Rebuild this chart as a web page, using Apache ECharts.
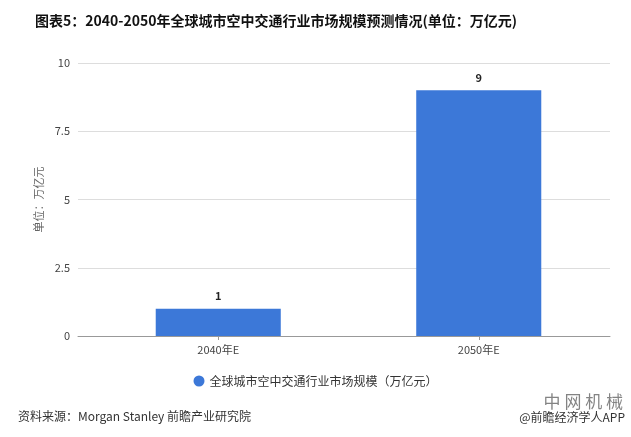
<!DOCTYPE html>
<html><head><meta charset="utf-8">
<script src="https://cdn.jsdelivr.net/npm/echarts@6/dist/echarts.min.js"></script>
<style>html,body{margin:0;padding:0;background:#fff}#c{width:631px;height:437px}</style>
</head><body><div id="c"></div>
<script>
const categories = ['2040年E', '2050年E'];
const marketSize = [1, 9];
const yTicks = [0, 2.5, 5, 7.5, 10];
const seriesName = '全球城市空中交通行业市场规模（万亿元）';

const font = '"Noto Sans CJK SC", "Noto Sans", sans-serif';
const chart = echarts.init(document.getElementById('c'), null, {renderer: 'canvas'});
chart.setOption({
  backgroundColor: '#fff',
  textStyle: {fontFamily: font},
  title: {
    text: '图表5：2040-2050年全球城市空中交通行业市场规模预测情况(单位：万亿元)',
    left: 30, top: 9,
    textStyle: {fontSize: 14, fontWeight: 'bold', color: '#111', fontFamily: font}
  },
  legend: {
    bottom: 45, left: 'center',
    icon: 'circle', itemWidth: 11, itemHeight: 11, itemGap: 8,
    textStyle: {fontSize: 12, color: '#333', fontFamily: font},
    data: [seriesName]
  },
  grid: [
    {left: 78, right: 21, top: 63, bottom: 101},
    {left: 88, right: 22, top: 63, bottom: 101}
  ],
  xAxis: [
    {gridIndex: 0, type: 'category', data: [''], axisLine: {lineStyle: {color: '#999'}},
     axisTick: {show: false}, axisLabel: {show: false}},
    {gridIndex: 1, type: 'category', data: categories,
     axisLine: {show: false},
     axisTick: {show: true, alignWithLabel: true, length: 4, lineStyle: {color: '#999'}},
     axisLabel: {fontSize: 11, color: '#444', margin: 8}}
  ],
  yAxis: [
    {gridIndex: 0, type: 'value', min: 0, max: 10, interval: 2.5,
     name: '单位：万亿元', nameLocation: 'middle', nameGap: 32, nameRotate: 90,
     nameTextStyle: {fontSize: 11, color: '#666'},
     axisLine: {show: false}, axisTick: {show: false},
     axisLabel: {fontSize: 11, color: '#444', margin: 8,
       formatter: v => yTicks.includes(v) ? String(v) : ''},
     splitLine: {lineStyle: {color: '#ddd'}}},
    {gridIndex: 1, type: 'value', min: 0, max: 10, interval: 2.5, show: false,
     splitLine: {show: false}}
  ],
  series: [{
    name: seriesName, type: 'bar', xAxisIndex: 1, yAxisIndex: 1,
    data: marketSize, barWidth: '48%',
    itemStyle: {color: '#3c78d8'},
    label: {show: true, position: 'top', fontSize: 11, fontWeight: 'bold', color: '#222', distance: 7}
  }],
  graphic: [
    {type: 'text', left: 18, top: 410,
     style: {text: '资料来源：Morgan Stanley 前瞻产业研究院', fontSize: 12, fill: '#333', fontFamily: font}},
    {type: 'text', right: 8, top: 393,
     style: {text: '中 网 机 械', fontSize: 17, fill: 'rgba(90,90,90,0.75)', fontFamily: font}},
    {type: 'text', right: 6, top: 411,
     style: {text: '@前瞻经济学人APP', fontSize: 12, fill: '#333', fontFamily: font}}
  ]
});
</script></body></html>
